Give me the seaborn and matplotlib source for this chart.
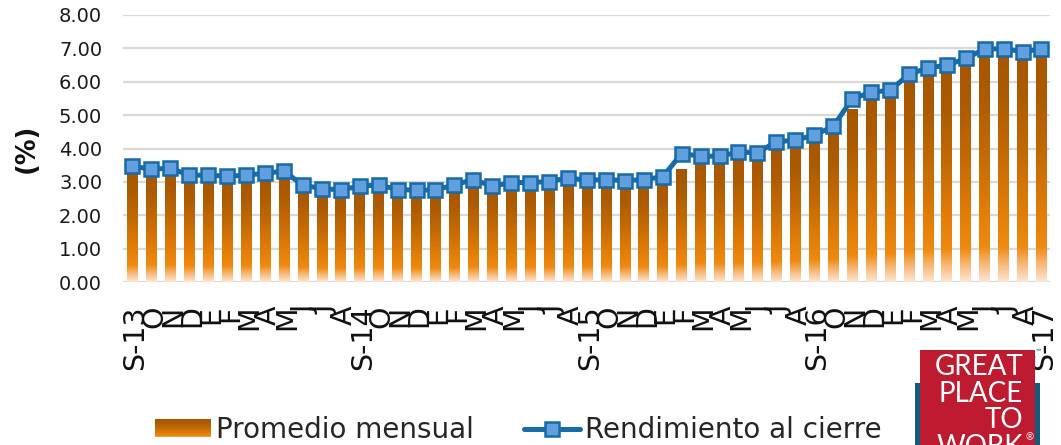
import numpy as np
import pandas as pd
import matplotlib
matplotlib.use("Agg")
import matplotlib.pyplot as plt
import seaborn as sns
from matplotlib.colors import LinearSegmentedColormap
from matplotlib.patches import Rectangle
from matplotlib.lines import Line2D
from matplotlib.legend_handler import HandlerBase
from matplotlib.transforms import ScaledTranslation

# ---------------- data ----------------
months = ["S-13", "O", "N", "D", "E", "F", "M", "A", "M", "J", "J", "A",
          "S-14", "O", "N", "D", "E", "F", "M", "A", "M", "J", "J", "A",
          "S-15", "O", "N", "D", "E", "F", "M", "A", "M", "J", "J", "A",
          "S-16", "O", "N", "D", "E", "F", "M", "A", "M", "J", "J", "A",
          "S-17"]

promedio = [3.38, 3.33, 3.35, 3.17, 3.16, 3.13, 3.15, 3.22, 3.28, 2.95, 2.78, 2.74,
            2.80, 2.88, 2.80, 2.74, 2.73, 2.82, 2.98, 2.92, 2.93, 2.96, 2.98, 3.06,
            3.06, 3.03, 3.03, 3.04, 3.08, 3.38, 3.80, 3.76, 3.82, 3.85, 4.00, 4.15,
            4.30, 4.55, 5.16, 5.58, 5.70, 6.05, 6.35, 6.43, 6.60, 6.88, 6.97, 6.92,
            6.95]

cierre = [3.47, 3.38, 3.41, 3.20, 3.20, 3.17, 3.20, 3.26, 3.32, 2.90, 2.80, 2.76,
          2.87, 2.91, 2.77, 2.75, 2.76, 2.91, 3.07, 2.87, 2.98, 2.98, 3.01, 3.12,
          3.05, 3.07, 3.04, 3.07, 3.15, 3.85, 3.77, 3.77, 3.89, 3.88, 4.20, 4.25,
          4.40, 4.66, 5.48, 5.69, 5.74, 6.22, 6.42, 6.49, 6.70, 6.98, 6.99, 6.90,
          6.98]

yticks = [0, 1, 2, 3, 4, 5, 6, 7, 8]
label_bar = "Promedio mensual"
label_line = "Rendimiento al cierre"

# ---------------- style ----------------
sns.set_theme(style="white")
plt.rcParams["font.family"] = ["DejaVu Sans"]

bar_cmap = LinearSegmentedColormap.from_list(
    "bargrad",
    [(0.00, "#FDE6D2"), (0.07, "#F8BC80"), (0.15, "#EE8A10"), (0.30, "#E27D08"),
     (0.55, "#C46A05"), (0.80, "#AC5B02"), (1.00, "#A55600")])

LINE_C = "#166BA8"
MARK_FC = "#629FDE"

W, H = 1061, 445
fig = plt.figure(figsize=(W / 100, H / 100), dpi=100)
fig.patch.set_facecolor("white")
ax = fig.add_axes([123 / W, 1 - 282 / H, (1050 - 123) / W, (282 - 15) / H])

n = len(months)
df = pd.DataFrame({"idx": np.arange(n), "promedio": promedio, "cierre": cierre})

sns.barplot(data=df, x="idx", y="promedio", ax=ax, width=0.56,
            color="#C06A0A", saturation=1, zorder=2)

# gradient fill for each bar (per-bar vertical gradient)
grad = np.linspace(0, 1, 256).reshape(-1, 1)
for p in list(ax.patches):
    x0 = p.get_x()
    w = p.get_width()
    h = p.get_height()
    p.set_visible(False)
    ax.imshow(grad, extent=[x0, x0 + w, 0, h], origin="lower", aspect="auto",
              cmap=bar_cmap, vmin=0, vmax=1, zorder=2, interpolation="bilinear")

sns.lineplot(data=df, x="idx", y="cierre", ax=ax, color=LINE_C, lw=3.6,
             marker="s", markersize=9.5, markerfacecolor=MARK_FC,
             markeredgecolor=LINE_C, markeredgewidth=1.8, zorder=4)

ax.set_aspect("auto")
ax.set_xlim(-0.5, 48.45)
ax.set_ylim(0, 8)
ax.set_yticks(yticks)
ax.set_yticklabels([f"{v:.2f}" for v in yticks])
ax.set_xticks(np.arange(n))
ax.set_xticklabels(months, rotation=90, va="top", ha="center")
ax.set_xlabel("")
ax.set_ylabel("")
for s in ax.spines.values():
    s.set_visible(False)
ax.yaxis.grid(True, color="#D9D9D9", lw=1.6, zorder=0)
ax.xaxis.grid(False)
ax.set_axisbelow(True)
ax.tick_params(axis="both", length=0)
ax.tick_params(axis="y", pad=15, labelsize=14, labelcolor="#1a1a1a")
ax.tick_params(axis="x", pad=17, labelsize=20.5, labelcolor="#111111")
shift = ScaledTranslation(3 / 100, 0, fig.dpi_scale_trans)
for lab in ax.get_xticklabels():
    lab.set_transform(lab.get_transform() + shift)

fig.text(27 / W, 1 - 148 / H, "(%)", rotation=90, ha="center", va="center",
         fontsize=18.5, fontweight="bold", color="#111111")


# ---------------- legend ----------------
class GradHandler(HandlerBase):
    def create_artists(self, legend, orig_handle, xdescent, ydescent,
                       width, height, fontsize, trans):
        arts = []
        k = 24
        for i in range(k):
            c = bar_cmap(0.1 + 0.9 * (i + 0.5) / k)
            r = Rectangle((-xdescent, -ydescent + height * i / k), width,
                          height / k * 1.05, facecolor=c, edgecolor="none",
                          transform=trans)
            arts.append(r)
        return arts


bar_proxy = Rectangle((0, 0), 1, 1, facecolor="#C06A0A")
line_proxy = Line2D([0], [0], color=LINE_C, lw=3.6, marker="s", markersize=9.5,
                    markerfacecolor=MARK_FC, markeredgecolor=LINE_C,
                    markeredgewidth=1.8)
fig.legend(handles=[bar_proxy, line_proxy], labels=[label_bar, label_line],
           loc="center left", bbox_to_anchor=(155 / W, 1 - 430 / H),
           bbox_transform=fig.transFigure, ncol=2, frameon=False, fontsize=20,
           handlelength=2.0, handleheight=0.62, handletextpad=0.2,
           columnspacing=1.8, borderpad=0, borderaxespad=0, numpoints=1,
           handler_map={bar_proxy: GradHandler()})

# ---------------- logo ----------------
fig.add_artist(Rectangle((915 / W, 0), (1040 - 915) / W, (H - 383) / H,
                         transform=fig.transFigure, facecolor="#125B7A",
                         edgecolor="none", zorder=5))
fig.add_artist(Rectangle((920 / W, 0), (1035 - 920) / W, (H - 350) / H,
                         transform=fig.transFigure, facecolor="#BF1B30",
                         edgecolor="none", zorder=6))
logo_font = dict(family=["Lato", "DejaVu Sans"], fontsize=20, color="white",
                 ha="right", va="baseline", zorder=7, fontweight="normal")
for txt, yb in [("GREAT", 375), ("PLACE", 402), ("TO", 428), ("WORK", 455)]:
    fig.text(1023 / W, 1 - yb / H, txt, **logo_font)
fig.text(1025 / W, 1 - 440 / H, "®", family=["Lato", "DejaVu Sans"],
         fontsize=7, color="white", ha="left", va="baseline", zorder=7)
fig.text(1036 / W, 1 - 354 / H, "™", family=["Lato", "DejaVu Sans"],
         fontsize=5, color="#125B7A", ha="left", va="baseline", zorder=7)

fig.savefig("out.png", dpi=100, facecolor="white")
